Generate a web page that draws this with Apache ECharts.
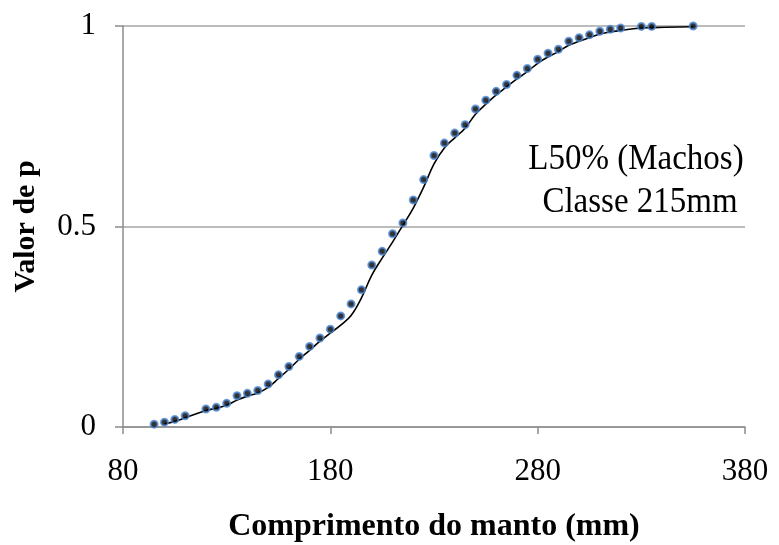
<!DOCTYPE html>
<html>
<head>
<meta charset="utf-8">
<script src="https://cdn.jsdelivr.net/npm/echarts@6/dist/echarts.min.js"></script>
<style>
  html, body { margin: 0; padding: 0; background: #fff; }
  #chart { width: 779px; height: 545px; }
</style>
</head>
<body>
<div id="chart"></div>
<script>
// Comprimento do manto (mm) for each size class
const comprimento = [95, 100, 105, 110, 120, 125, 130, 135, 140, 145, 150, 155, 160, 165, 170, 175,
  180, 185, 190, 195, 200, 205, 210, 215, 220, 225, 230, 235, 240, 245, 250, 255, 260, 265, 270,
  275, 280, 285, 290, 295, 300, 305, 310, 315, 320, 330, 335, 355];

// Observed cumulative proportion (valor de p)
const observado = [0.007, 0.012, 0.019, 0.028, 0.045, 0.049, 0.059, 0.078, 0.084, 0.091, 0.107, 0.130,
  0.151, 0.176, 0.201, 0.222, 0.244, 0.277, 0.307, 0.342, 0.404, 0.438, 0.482, 0.509, 0.566, 0.617,
  0.677, 0.708, 0.733, 0.754, 0.793, 0.815, 0.837, 0.854, 0.877, 0.894, 0.917, 0.932, 0.942, 0.962,
  0.971, 0.978, 0.987, 0.992, 0.995, 0.999, 0.999, 1.000];

// Fitted curve
const ajustado = [null, 0.008, 0.014, 0.023, 0.041, 0.047, 0.054, 0.067, 0.077, 0.085, 0.099, 0.121,
  0.144, 0.169, 0.191, 0.214, 0.234, 0.254, 0.278, 0.322, 0.379, 0.421, 0.461, 0.503, 0.546, 0.598,
  0.656, 0.696, 0.721, 0.745, 0.780, 0.805, 0.828, 0.848, 0.868, 0.886, 0.907, 0.923, 0.936, 0.952,
  0.962, 0.971, 0.980, 0.985, 0.989, 0.995, 0.996, 0.998];

const xTicks = [80, 180, 280, 380];
const yTicks = [0, 0.5, 1];

const serif = '"Liberation Serif", "Times New Roman", serif';
const pares = (ys) => comprimento.map((x, i) => [x, ys[i]]).filter(d => d[1] !== null);

const chart = echarts.init(document.getElementById('chart'), null, { renderer: 'canvas' });
chart.setOption({
  animation: false,
  backgroundColor: '#fff',
  grid: { left: 123, right: 34, top: 26, bottom: 118, containLabel: false, outerBoundsMode: 'none' },
  xAxis: {
    type: 'value',
    min: xTicks[0], max: xTicks[xTicks.length - 1], interval: 100,
    name: 'Comprimento do manto (mm)',
    nameLocation: 'middle', nameGap: 84,
    nameTextStyle: { fontFamily: serif, fontSize: 32, fontWeight: 'bold', color: '#000' },
    axisLine: { show: true, lineStyle: { color: '#8c8c8c', width: 1.5 } },
    axisTick: { show: true, inside: false, length: 7, lineStyle: { color: '#8c8c8c', width: 1.5 } },
    axisLabel: { fontFamily: serif, fontSize: 31, color: '#000', margin: 29 },
    splitLine: { show: false }
  },
  yAxis: {
    type: 'value',
    min: yTicks[0], max: yTicks[yTicks.length - 1], interval: 0.5,
    name: 'Valor de p',
    nameLocation: 'middle', nameGap: 82,
    nameTextStyle: { fontFamily: serif, fontSize: 30, fontWeight: 'bold', color: '#000' },
    axisLine: { show: true, lineStyle: { color: '#8c8c8c', width: 1.5 } },
    axisTick: { show: true, inside: false, length: 8, lineStyle: { color: '#8c8c8c', width: 1.5 } },
    axisLabel: { fontFamily: serif, fontSize: 31, color: '#000', margin: 27 },
    splitLine: { show: true, lineStyle: { color: '#a6a6a6', width: 1.5 } }
  },
  graphic: [
    { type: 'text', x: 636, y: 160, scaleY: 1.06, style: { text: 'L50% (Machos)', font: '33px ' + serif, fill: '#000', textAlign: 'center', textVerticalAlign: 'middle' } },
    { type: 'text', x: 640, y: 203, scaleY: 1.06, style: { text: 'Classe 215mm', font: '33px ' + serif, fill: '#000', textAlign: 'center', textVerticalAlign: 'middle' } }
  ],
  series: [
    {
      type: 'line',
      data: pares(ajustado),
      smooth: 0.4,
      showSymbol: false,
      lineStyle: { color: '#000', width: 1.6 },
      z: 2
    },
    {
      type: 'scatter',
      data: pares(observado),
      symbol: 'circle',
      symbolSize: 7,
      itemStyle: { color: '#000', borderColor: '#4f8ad6', borderWidth: 2 },
      z: 3
    }
  ]
});
</script>
</body>
</html>
